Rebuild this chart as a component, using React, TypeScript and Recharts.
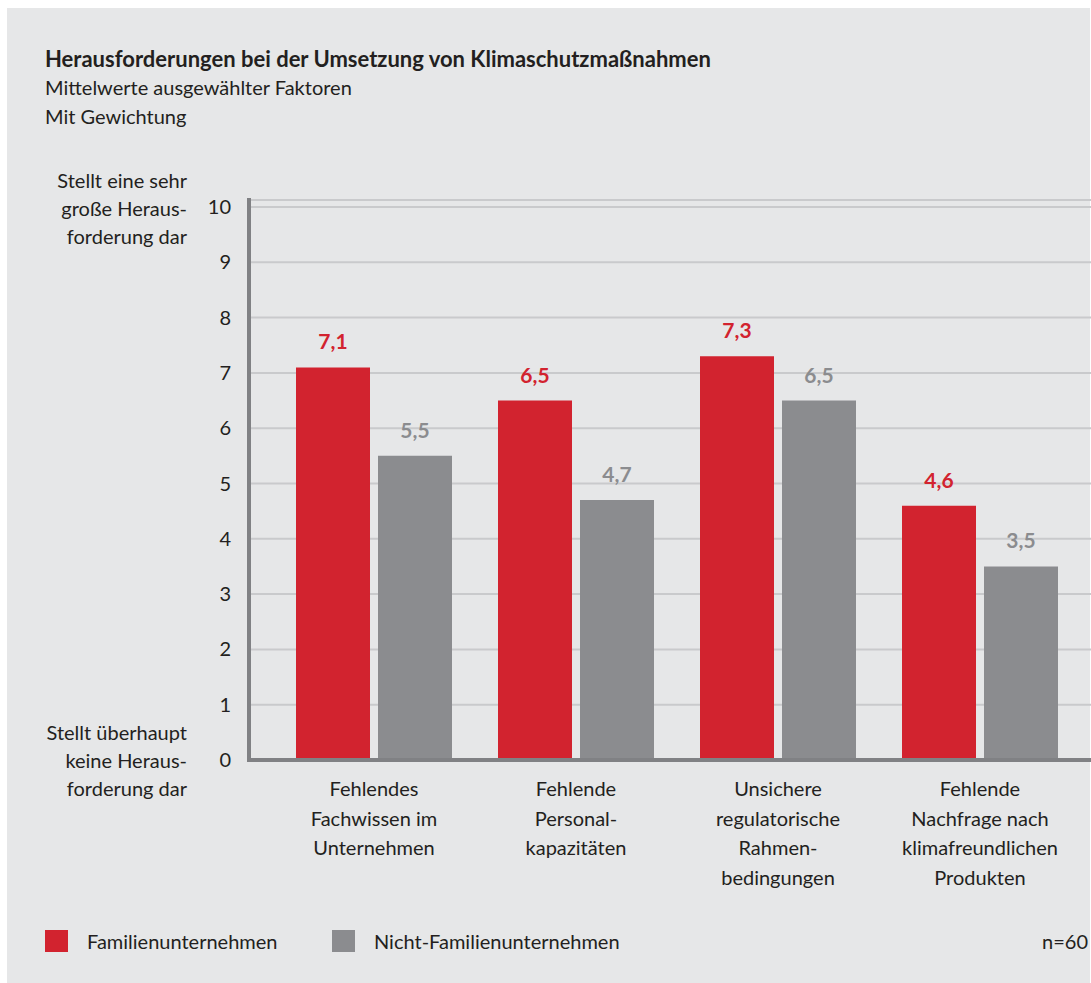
import React from 'react';
import { BarChart, Bar, XAxis, YAxis, CartesianGrid, LabelList } from 'recharts';

const categories = [
  'Fehlendes\nFachwissen im\nUnternehmen',
  'Fehlende\nPersonal-\nkapazitäten',
  'Unsichere\nregulatorische\nRahmen-\nbedingungen',
  'Fehlende\nNachfrage nach\nklimafreundlichen\nProdukten',
];
const familienunternehmen = [7.1, 6.5, 7.3, 4.6];
const nichtFamilienunternehmen = [5.5, 4.7, 6.5, 3.5];
const yTicks = [0, 1, 2, 3, 4, 5, 6, 7, 8, 9, 10];
const seriesNames = ['Familienunternehmen', 'Nicht-Familienunternehmen'];

const RED = '#d2232f';
const GRAY = '#8b8c8f';
const TEXT = '#231f20';
const BG = '#e6e7e8';
const FONT = 'Lato, "Open Sans", sans-serif';

const data = categories.map((c, i) => ({
  name: c,
  fam: familienunternehmen[i],
  nfam: nichtFamilienunternehmen[i],
}));

const fmt = (v: number) => v.toFixed(1).replace('.', ',');

const XTick = (props: any) => {
  const { x, y, payload } = props;
  const lines = String(payload.value).split('\n');
  return (
    <text x={x} y={y + 36} textAnchor="middle" fill={TEXT} fontSize={20} fontFamily={FONT}>
      {lines.map((l: string, i: number) => (
        <tspan key={i} x={x} dy={i === 0 ? 0 : 29.5}>{l}</tspan>
      ))}
    </text>
  );
};

const YTick = (props: any) => {
  const { y, payload } = props;
  return (
    <text x={231} y={y + 7} textAnchor="end" fill={TEXT} fontSize={20} fontFamily={FONT}>
      {payload.value}
    </text>
  );
};

const makeLabel = (color: string) => (props: any) => {
  const { x, y, width, value } = props;
  return (
    <text x={x + width / 2} y={y - 18} textAnchor="middle" fill={color} fontSize={21} fontWeight={700} fontFamily={FONT}>
      {fmt(value)}
    </text>
  );
};

const textStyle: React.CSSProperties = {
  position: 'absolute',
  fontFamily: FONT,
  fontSize: 20,
  color: TEXT,
  lineHeight: '29px',
  whiteSpace: 'nowrap',
};

export default function App() {
  return (
    <div style={{ position: 'absolute', left: 0, top: 0, width: 1091, height: 983, background: '#fff', overflow: 'hidden' }}>
      <div style={{ position: 'absolute', left: 7, top: 8, width: 1083, height: 975, background: BG }} />
      <div style={{ ...textStyle, left: 45, top: 44 }}>
        <div style={{ fontWeight: 700, fontSize: 22 }}>Herausforderungen bei der Umsetzung von Klimaschutzmaßnahmen</div>
        <div>Mittelwerte ausgewählter Faktoren</div>
        <div>Mit Gewichtung</div>
      </div>
      <div style={{ ...textStyle, right: 1091 - 187, top: 166, textAlign: 'right', lineHeight: '28px' }}>
        <div>Stellt eine sehr</div>
        <div>große Heraus-</div>
        <div>forderung dar</div>
      </div>
      <div style={{ ...textStyle, right: 1091 - 187, top: 718, textAlign: 'right', lineHeight: '28px' }}>
        <div>Stellt überhaupt</div>
        <div>keine Heraus-</div>
        <div>forderung dar</div>
      </div>
      <div style={{ position: 'absolute', left: 0, top: 0 }}>
        <BarChart
          width={1091}
          height={983}
          data={data}
          margin={{ top: 200, right: 0, left: 0, bottom: 93 }}
          barSize={74}
          barGap={8}
        >
          <CartesianGrid horizontal vertical={false} stroke="#c9cacc" strokeWidth={2} />
          <YAxis
            domain={[0, 10.127]}
            ticks={yTicks}
            width={249}
            tickLine={false}
            tickSize={0}
            axisLine={{ stroke: '#808184', strokeWidth: 4, strokeLinecap: 'square' } as any}
            tick={<YTick />}
            interval={0}
            allowDataOverflow
          />
          <XAxis
            dataKey="name"
            height={130}
            padding={{ left: 24, right: 10 }}
            tickLine={false}
            tickSize={0}
            tickMargin={0}
            axisLine={{ stroke: '#808184', strokeWidth: 4 }}
            tick={<XTick />}
            interval={0}
          />
          <Bar dataKey="fam" name={seriesNames[0]} fill={RED} isAnimationActive={false}>
            <LabelList dataKey="fam" content={makeLabel(RED)} />
          </Bar>
          <Bar dataKey="nfam" name={seriesNames[1]} fill={GRAY} isAnimationActive={false}>
            <LabelList dataKey="nfam" content={makeLabel(GRAY)} />
          </Bar>
        </BarChart>
      </div>
      <div style={{ position: 'absolute', left: 45, top: 930, width: 23, height: 22, background: RED }} />
      <div style={{ ...textStyle, left: 87, top: 927 }}>{seriesNames[0]}</div>
      <div style={{ position: 'absolute', left: 332, top: 930, width: 23, height: 22, background: GRAY }} />
      <div style={{ ...textStyle, left: 374, top: 927 }}>{seriesNames[1]}</div>
      <div style={{ ...textStyle, right: 3, top: 927 }}>n=60</div>
    </div>
  );
}
